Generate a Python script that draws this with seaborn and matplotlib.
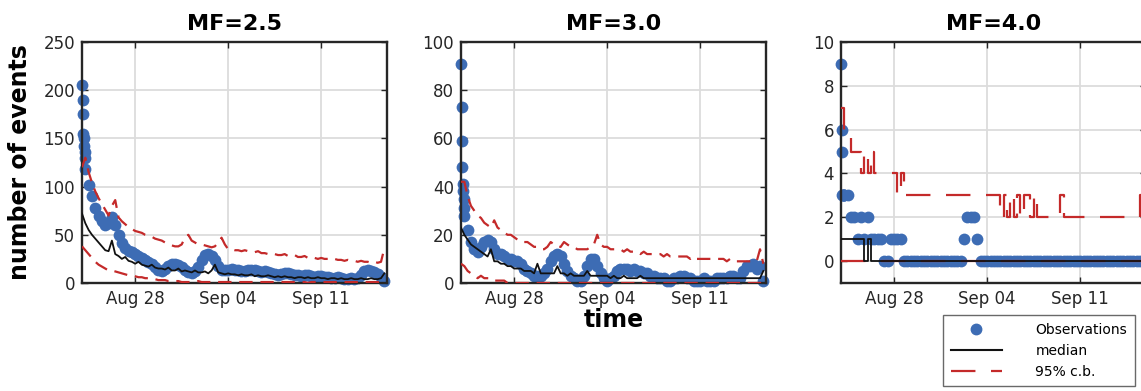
import numpy as np
import pandas as pd
import matplotlib
matplotlib.use("Agg")
import matplotlib.pyplot as plt
import matplotlib.dates as mdates
from matplotlib.lines import Line2D
import seaborn as sns

# ---------------- data ----------------
start_date = "2014-08-24"
step_days = 0.25                      # sampling of the gridded series
titles = ["MF=2.5", "MF=3.0", "MF=4.0"]
tick_dates = ["2014-08-28", "2014-09-04", "2014-09-11"]
legend_labels = ["Observations", "median", "95% c.b."]
ylabel_text = "number of events"
xlabel_text = "time"

# first-hours observations (day offsets / counts)
early_t = [0.04, 0.07, 0.10, 0.13, 0.16, 0.19, 0.22]
early_obs_25 = [190, 175, 155, 150, 142, 136, 130]
early_obs_30 = [73, 59, 48, 41, 38, 35, 31]
early_obs_40 = [6, 5, 3, 3, 3, 3, 3]

# ---- MF = 2.5 (values every 0.25 day from Aug 24 00:00) ----
obs_25 = [205, 118, 102, 90, 78, 70, 64, 60,
          62, 68, 60, 50, 42, 36, 33, 32,
          30, 28, 26, 24, 22, 20, 17, 14,
          12, 15, 18, 20, 20, 19, 17, 14,
          11, 10, 12, 17, 24, 29, 30, 28,
          24, 18, 14, 13, 14, 15, 14, 13,
          12, 12, 13, 14, 13, 12, 11, 12,
          11, 10, 9, 8, 9, 10, 10, 9,
          8, 8, 7, 8, 8, 7, 6, 7,
          7, 6, 6, 5, 5, 6, 5, 4,
          4, 5, 4, 5, 8, 12, 13, 12,
          11, 9, 6, 2]
med_25 = [72, 62, 55, 50, 46, 42, 38, 34,
          33, 44, 30, 28, 25, 27, 23, 22,
          20, 22, 19, 18, 17, 19, 16, 15,
          15, 14, 16, 13, 13, 15, 12, 13,
          12, 11, 13, 11, 11, 12, 10, 13,
          19, 11, 10, 9, 10, 9, 9, 8,
          9, 8, 8, 9, 7, 8, 7, 7,
          8, 7, 6, 7, 6, 7, 6, 6,
          5, 6, 6, 5, 6, 5, 5, 6,
          5, 5, 4, 5, 5, 4, 5, 4,
          4, 5, 4, 4, 5, 4, 4, 5,
          4, 4, 5, 10]
up_25 = [120, 130, 115, 104, 95, 88, 82, 76,
         70, 80, 86, 68, 64, 61, 58, 56,
         54, 53, 52, 50, 49, 48, 46, 45,
         44, 42, 40, 39, 38, 38, 40, 47,
         50, 44, 42, 40, 40, 39, 38, 37,
         38, 42, 47, 40, 35, 35, 34, 34,
         33, 34, 33, 32, 32, 33, 31, 31,
         30, 31, 30, 29, 29, 30, 28, 28,
         29, 27, 27, 28, 26, 27, 26, 25,
         26, 25, 25, 24, 25, 24, 24, 23,
         24, 23, 23, 22, 23, 22, 22, 21,
         22, 21, 22, 36]
lo_25 = [38, 34, 30, 26, 22, 19, 17, 15,
         13, 13, 12, 11, 10, 9, 8, 8,
         7, 6, 6, 5, 5, 4, 4, 3,
         3, 3, 2, 2, 2, 2, 1, 1,
         1, 1, 1, 2, 1, 1, 1, 1,
         1, 1, 1, 1, 1, 1, 1, 1,
         1, 1, 1, 1, 1, 1, 1, 1,
         1, 1, 1, 1, 1, 1, 1, 1,
         1, 1, 1, 1, 0, 1, 1, 1,
         1, 1, 1, 1, 1, 1, 1, 1,
         1, 1, 1, 1, 1, 1, 1, 1,
         1, 1, 1, 1]

# ---- MF = 3.0 ----
obs_30 = [91, 28, 22, 17, 14, 13, 15, 17,
          18, 17, 14, 12, 12, 11, 10, 10,
          9, 9, 8, 6, 5, 4, 3, 3,
          3, 4, 6, 9, 11, 12, 11, 8,
          5, 3, 2, 1, 1, 3, 7, 10,
          10, 7, 4, 2, 1, 2, 3, 5,
          6, 6, 6, 5, 6, 5, 5, 4,
          4, 3, 3, 2, 2, 2, 1, 1,
          2, 2, 3, 3, 2, 2, 1, 1,
          1, 2, 1, 1, 1, 2, 2, 2,
          2, 3, 3, 2, 2, 5, 7, 7,
          8, 6, 7, 1]
med_30 = [23, 20, 18, 16, 15, 14, 13, 12,
          11, 14, 9, 9, 8, 8, 7, 7,
          6, 6, 6, 5, 5, 5, 4, 8,
          4, 4, 4, 4, 4, 7, 4, 4,
          3, 4, 3, 3, 3, 3, 5, 3,
          3, 3, 3, 3, 3, 2, 3, 2,
          2, 3, 2, 2, 2, 2, 3, 2,
          2, 2, 2, 2, 2, 2, 2, 2,
          2, 2, 2, 2, 2, 2, 2, 2,
          2, 2, 2, 2, 2, 2, 2, 2,
          2, 2, 2, 2, 2, 2, 2, 2,
          2, 2, 2, 5]
up_30 = [42, 42, 36, 32, 30, 28, 27, 25,
         24, 23, 26, 23, 22, 21, 20, 20,
         19, 18, 18, 17, 17, 16, 15, 15,
         14, 14, 15, 17, 16, 15, 15, 17,
         16, 15, 15, 14, 14, 14, 14, 15,
         16, 20, 16, 15, 15, 14, 14, 14,
         14, 13, 14, 13, 13, 13, 12, 13,
         12, 12, 12, 12, 12, 11, 12, 11,
         11, 11, 11, 11, 11, 10, 11, 10,
         10, 10, 10, 10, 10, 10, 10, 10,
         9, 10, 9, 9, 9, 9, 9, 9,
         9, 9, 14, 8]
lo_30 = [8, 7, 5, 4, 3, 2, 3, 2,
         2, 2, 1, 1, 1, 1, 0, 0,
         0, 0, 0, 0, 0, 0, 0, 0,
         0, 0, 0, 0, 0, 0, 0, 0,
         0, 0, 0, 0, 0, 0, 0, 0,
         0, 0, 0, 0, 0, 0, 0, 0,
         0, 0, 0, 0, 0, 0, 0, 0,
         0, 0, 0, 0, 0, 0, 0, 0,
         0, 0, 0, 0, 0, 0, 0, 0,
         0, 0, 0, 0, 0, 0, 0, 0,
         0, 0, 0, 0, 0, 0, 0, 0,
         0, 0, 0, 0]

# ---- MF = 4.0 ----
obs_40 = [9, 3, 3, 2, 2, 1, 2, 1,
          2, 1, 1, 1, 1, 0, 0, 1,
          1, 1, 1, 0, 0, 0, 0, 0,
          0, 0, 0, 0, 0, 0, 0, 0,
          0, 0, 0, 0, 0, 1, 2, 2,
          2, 1, 0, 0, 0, 0, 0, 0,
          0, 0, 0, 0, 0, 0, 0, 0,
          0, 0, 0, 0, 0, 0, 0, 0,
          0, 0, 0, 0, 0, 0, 0, 0,
          0, 0, 0, 0, 0, 0, 0, 0,
          0, 0, 0, 0, 0, 0, 0, 0,
          0, 0, 0, 0]
med_40 = [1, 1, 1, 1, 1, 1, 1, 0,
          1, 0, 0, 0, 0, 0, 0, 0,
          0, 0, 0, 0, 0, 0, 0, 0,
          0, 0, 0, 0, 0, 0, 0, 0,
          0, 0, 0, 0, 0, 0, 0, 0,
          0, 0, 0, 0, 0, 0, 0, 0,
          0, 0, 0, 0, 0, 0, 0, 0,
          0, 0, 0, 0, 0, 0, 0, 0,
          0, 0, 0, 0, 0, 0, 0, 0,
          0, 0, 0, 0, 0, 0, 0, 0,
          0, 0, 0, 0, 0, 0, 0, 0,
          0, 0, 0, 0]
up_40 = [7, 6, 6, 5, 5, 5, 4, 5,
         4, 5, 4, 4, 4, 4, 4, 4,
         4, 3, 4, 3, 3, 3, 3, 3,
         3, 3, 3, 3, 3, 3, 3, 3,
         3, 3, 3, 3, 3, 3, 3, 3,
         3, 3, 3, 3, 3, 3, 3, 3,
         2, 3, 2, 3, 2, 3, 2, 3,
         3, 2, 3, 2, 2, 2, 2, 2,
         2, 2, 3, 2, 2, 2, 2, 2,
         2, 2, 2, 2, 2, 2, 2, 2,
         2, 2, 2, 2, 2, 2, 2, 2,
         2, 2, 3, 3]
lo_40 = [0, 0, 0, 0, 0, 0, 0, 0,
         0, 0, 0, 0, 0, 0, 0, 0,
         0, 0, 0, 0, 0, 0, 0, 0,
         0, 0, 0, 0, 0, 0, 0, 0,
         0, 0, 0, 0, 0, 0, 0, 0,
         0, 0, 0, 0, 0, 0, 0, 0,
         0, 0, 0, 0, 0, 0, 0, 0,
         0, 0, 0, 0, 0, 0, 0, 0,
         0, 0, 0, 0, 0, 0, 0, 0,
         0, 0, 0, 0, 0, 0, 0, 0,
         0, 0, 0, 0, 0, 0, 0, 0,
         0, 0, 0, 0]

# ---------------- styling ----------------
BLUE = "#3d6cb4"
RED = "#c42a2a"
BLACK = "#111111"
TXT = "#262626"

W, H = 1141, 391
fig = plt.figure(figsize=(W / 100, H / 100), dpi=100)
plt.rcParams["font.family"] = ["DejaVu Sans"]

panels = [
    dict(title=titles[0], early=early_obs_25, obs=obs_25, med=med_25, up=up_25, lo=lo_25,
         ylim=(0, 250), yticks=[0, 50, 100, 150, 200, 250], steps=False, dash=(6, 3.5), left=82),
    dict(title=titles[1], early=early_obs_30, obs=obs_30, med=med_30, up=up_30, lo=lo_30,
         ylim=(0, 100), yticks=[0, 20, 40, 60, 80, 100], steps=False, dash=(6, 3.5), left=461),
    dict(title=titles[2], early=early_obs_40, obs=obs_40, med=med_40, up=up_40, lo=lo_40,
         ylim=(-1, 10), yticks=[0, 2, 4, 6, 8, 10], steps=True, dash=(11, 7), left=841),
]

t0 = pd.Timestamp(start_date)
ax_w, top, bottom = 305, 42, 283
axes = []
for p in panels:
    ax = fig.add_axes([p["left"] / W, 1 - bottom / H, ax_w / W, (bottom - top) / H])
    axes.append(ax)
    n = len(p["med"])
    times = t0 + pd.to_timedelta(np.arange(n) * step_days, unit="D")
    obs_times = (t0 + pd.to_timedelta(np.arange(len(p["obs"])) * step_days, unit="D")).append(
        t0 + pd.to_timedelta(np.array(early_t), unit="D"))
    obs_df = pd.DataFrame({"time": obs_times, "count": list(p["obs"]) + list(p["early"])})

    sns.scatterplot(data=obs_df, x="time", y="count", ax=ax, s=72, color=BLUE,
                    linewidth=0, zorder=2, clip_on=False, legend=False)
    ds = "steps-post" if p["steps"] else "default"
    for series in (p["up"], p["lo"]):
        sns.lineplot(x=times, y=series, ax=ax, color=RED, lw=1.6, estimator=None, sort=False,
                     linestyle=(0, p["dash"]), drawstyle=ds, zorder=3, legend=False)
    sns.lineplot(x=times, y=p["med"], ax=ax, color=BLACK, lw=1.3, estimator=None, sort=False,
                 drawstyle=ds, zorder=4, legend=False)

    ax.set_xlim(t0, t0 + pd.Timedelta(days=22.95))
    ax.set_ylim(*p["ylim"])
    ax.set_yticks(p["yticks"])
    ax.set_xticks(pd.to_datetime(tick_dates))
    ax.xaxis.set_major_formatter(mdates.DateFormatter("%b %d"))
    ax.grid(True, color="#dcdcdc", lw=1.3)
    ax.set_axisbelow(True)
    ax.tick_params(direction="in", length=4, width=1, top=True, right=True,
                   labelsize=12, labelcolor=TXT, color=TXT, pad=5)
    for s in ax.spines.values():
        s.set_color(TXT)
        s.set_linewidth(1.7)
    ax.set_title(p["title"], fontsize=16, fontweight="bold", pad=8.5)
    ax.set_xlabel("")
    ax.set_ylabel("")

axes[0].set_ylabel(ylabel_text, fontsize=17, fontweight="bold")
axes[0].yaxis.set_label_coords(-0.164, 0.5)
axes[1].set_xlabel(xlabel_text, fontsize=17, fontweight="bold")
axes[1].xaxis.set_label_coords(0.5, -0.105)

handles = [
    Line2D([], [], marker="o", ls="none", color=BLUE, markersize=7.5),
    Line2D([], [], color=BLACK, lw=1.5),
    Line2D([], [], color=RED, lw=1.6, ls=(0, (11, 7))),
]
leg = fig.legend(handles, legend_labels, loc="upper left",
                 bbox_to_anchor=(943 / W, 1 - 315 / H), borderaxespad=0,
                 fontsize=10, frameon=True, fancybox=False, edgecolor="#444444",
                 borderpad=0.55, handlelength=3.7, handletextpad=2.4, labelspacing=0.5)
leg.get_frame().set_linewidth(1.0)

fig.savefig("out.png", dpi=100)
